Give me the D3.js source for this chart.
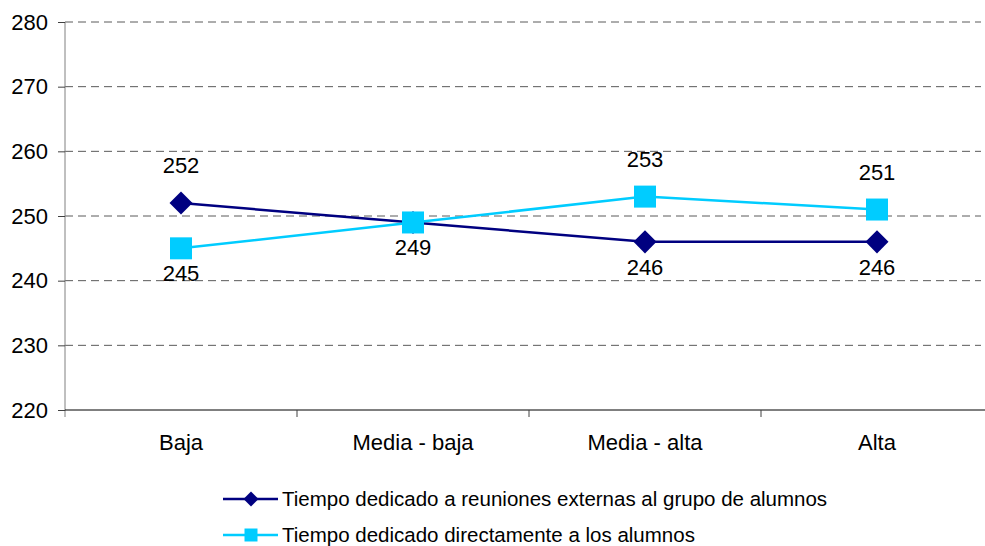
<!DOCTYPE html>
<html>
<head>
<meta charset="utf-8">
<script src="https://cdn.jsdelivr.net/npm/d3@7"></script>
<style>
  body { margin: 0; background: #fff; }
  svg { display: block; font-family: "Liberation Sans", Arial, sans-serif; }
</style>
</head>
<body>
<div id="chart"></div>
<script>
var categories = ["Baja", "Media - baja", "Media - alta", "Alta"];
var seriesNames = ["Tiempo dedicado a reuniones externas al grupo de alumnos",
                   "Tiempo dedicado directamente a los alumnos"];
var reuniones = [252, 249, 246, 246];
var alumnos = [245, 249, 253, 251];
var yTicks = [220, 230, 240, 250, 260, 270, 280];

var colors = ["#000080", "#00ccff"];
var rotations = [45, 0]; // diamond = square turned 45deg

var w = 985, h = 546;
var svg = d3.select("#chart").append("svg")
    .attr("width", w)
    .attr("height", h);

var x = d3.scaleBand()
    .domain(categories)
    .range([65, 993]);

var y = d3.scaleLinear()
    .domain([220, 280])
    .range([410, 22]);

// dashed grid
svg.append("g")
    .selectAll("line")
    .data(yTicks.slice(1))
    .enter()
    .append("line")
    .attr("x1", 65)
    .attr("x2", 981)
    .attr("y1", function(d) { return y(d); })
    .attr("y2", function(d) { return y(d); })
    .attr("stroke", "#5a5a5a")
    .attr("stroke-width", 1)
    .attr("stroke-dasharray", "8,5");

// y axis
var yAxis = svg.append("g")
    .attr("transform", "translate(65,0)")
    .call(d3.axisLeft(y).tickValues(yTicks).tickSize(7).tickPadding(10));
yAxis.select(".domain").attr("stroke", "#808080").attr("d", "M0,22V417");
yAxis.selectAll(".tick line").attr("stroke", "#404040");
yAxis.selectAll("text")
    .attr("font-size", "22px")
    .attr("font-family", "Liberation Sans, Arial, sans-serif")
    .attr("fill", "#000");

// x axis
var xAxis = svg.append("g")
    .attr("transform", "translate(0,410)")
    .call(d3.axisBottom(x).tickSize(0).tickPadding(24));
xAxis.select(".domain").attr("stroke", "#000").attr("d", "M65,0H985");
xAxis.selectAll("text")
    .attr("font-size", "22px")
    .attr("font-family", "Liberation Sans, Arial, sans-serif")
    .attr("fill", "#000");

// category separators
svg.append("g")
    .selectAll("line")
    .data(categories.slice(1))
    .enter()
    .append("line")
    .attr("x1", function(d) { return x(d); })
    .attr("x2", function(d) { return x(d); })
    .attr("y1", 410)
    .attr("y2", 417)
    .attr("stroke", "#404040");

var cx = function(d, i) { return x(categories[i]) + x.bandwidth() / 2; };
var series = [reuniones, alumnos];

series.forEach(function(vals, s) {
    var line = d3.line()
        .x(function(d, i) { return cx(d, i); })
        .y(function(d) { return y(d); });

    svg.append("path")
        .datum(vals)
        .attr("d", line)
        .attr("fill", "none")
        .attr("stroke", colors[s])
        .attr("stroke-width", 2.5);

    svg.append("g")
        .selectAll("path")
        .data(vals)
        .enter()
        .append("path")
        .attr("d", d3.symbol().type(d3.symbolSquare).size(s == 0 ? 265 : 484))
        .attr("transform", function(d, i) {
            return "translate(" + cx(d, i) + "," + y(d) + ") rotate(" + rotations[s] + ")";
        })
        .attr("fill", colors[s]);
});

// value labels: higher series labelled above, lower below (one label if equal)
series.forEach(function(vals, s) {
    var other = series[1 - s];
    svg.append("g")
        .selectAll("text")
        .data(vals)
        .enter()
        .append("text")
        .text(function(d, i) { return (s == 1 && d == other[i]) ? "" : d; })
        .attr("x", function(d, i) { return cx(d, i); })
        .attr("y", function(d, i) {
            var above = d > other[i];
            return above ? y(d) - 30 : y(d) + 33;
        })
        .attr("text-anchor", "middle")
        .attr("font-size", "22px")
        .attr("fill", "#000");
});

// legend
var legend = svg.append("g")
    .selectAll("g")
    .data(seriesNames)
    .enter()
    .append("g")
    .attr("transform", function(d, i) { return "translate(223," + (499 + i * 36) + ")"; });

legend.append("line")
    .attr("x1", 0)
    .attr("x2", 55)
    .attr("stroke", function(d, i) { return colors[i]; })
    .attr("stroke-width", 2.5);

legend.append("path")
    .attr("d", function(d, i) { return d3.symbol().type(d3.symbolSquare).size(i == 0 ? 112 : 169)(); })
    .attr("transform", function(d, i) { return "translate(28,0) rotate(" + rotations[i] + ")"; })
    .attr("fill", function(d, i) { return colors[i]; });

legend.append("text")
    .text(function(d) { return d; })
    .attr("x", 59)
    .attr("y", 7)
    .attr("font-size", "20.5px")
    .attr("fill", "#000");
</script>
</body>
</html>
